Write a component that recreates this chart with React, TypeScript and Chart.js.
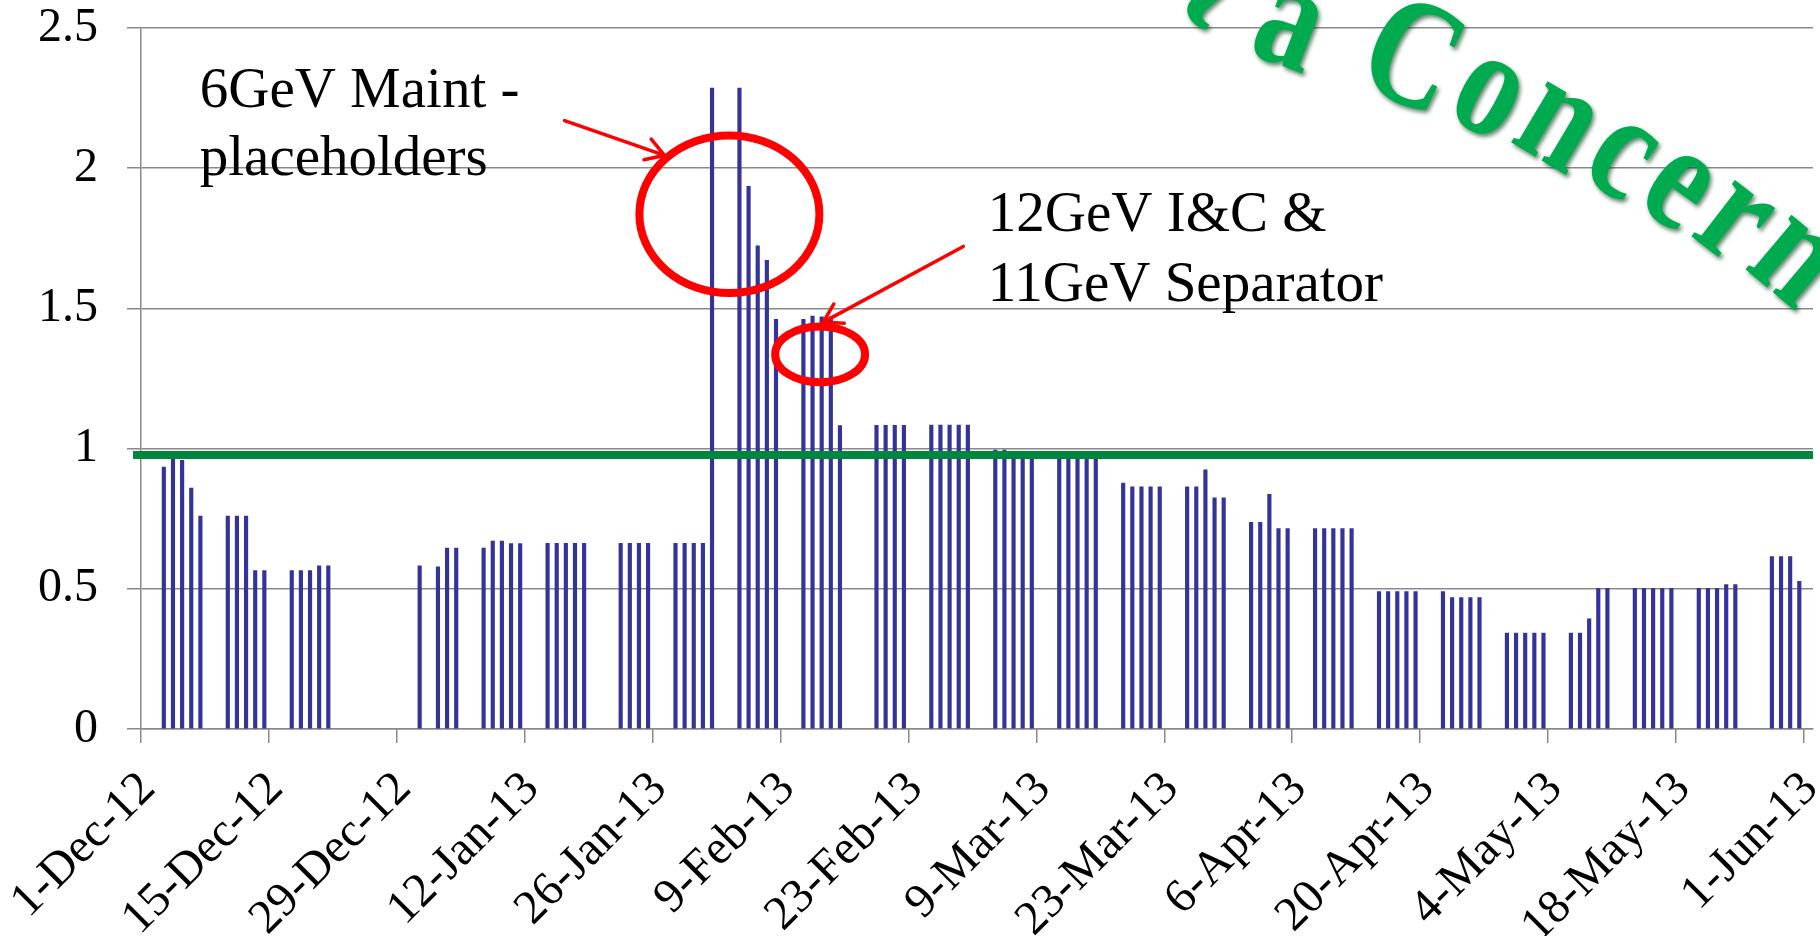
import React, { useEffect, useRef } from 'react';
import { Chart, registerables } from 'chart.js';

Chart.register(...registerables);

// ---------- data ----------
const AXIS_START = '2012-12-01';
const AXIS_END = '2013-06-02';

const BAR_DATES = [
  '2012-12-03', '2012-12-04', '2012-12-05', '2012-12-06', '2012-12-07',
  '2012-12-10', '2012-12-11', '2012-12-12', '2012-12-13', '2012-12-14',
  '2012-12-17', '2012-12-18', '2012-12-19', '2012-12-20', '2012-12-21',
  '2012-12-31',
  '2013-01-02', '2013-01-03', '2013-01-04',
  '2013-01-07', '2013-01-08', '2013-01-09', '2013-01-10', '2013-01-11',
  '2013-01-14', '2013-01-15', '2013-01-16', '2013-01-17', '2013-01-18',
  '2013-01-22', '2013-01-23', '2013-01-24', '2013-01-25',
  '2013-01-28', '2013-01-29', '2013-01-30', '2013-01-31', '2013-02-01',
  '2013-02-04', '2013-02-05', '2013-02-06', '2013-02-07', '2013-02-08',
  '2013-02-11', '2013-02-12', '2013-02-13', '2013-02-14', '2013-02-15',
  '2013-02-19', '2013-02-20', '2013-02-21', '2013-02-22',
  '2013-02-25', '2013-02-26', '2013-02-27', '2013-02-28', '2013-03-01',
  '2013-03-04', '2013-03-05', '2013-03-06', '2013-03-07', '2013-03-08',
  '2013-03-11', '2013-03-12', '2013-03-13', '2013-03-14', '2013-03-15',
  '2013-03-18', '2013-03-19', '2013-03-20', '2013-03-21', '2013-03-22',
  '2013-03-25', '2013-03-26', '2013-03-27', '2013-03-28', '2013-03-29',
  '2013-04-01', '2013-04-02', '2013-04-03', '2013-04-04', '2013-04-05',
  '2013-04-08', '2013-04-09', '2013-04-10', '2013-04-11', '2013-04-12',
  '2013-04-15', '2013-04-16', '2013-04-17', '2013-04-18', '2013-04-19',
  '2013-04-22', '2013-04-23', '2013-04-24', '2013-04-25', '2013-04-26',
  '2013-04-29', '2013-04-30', '2013-05-01', '2013-05-02', '2013-05-03',
  '2013-05-06', '2013-05-07', '2013-05-08', '2013-05-09', '2013-05-10',
  '2013-05-13', '2013-05-14', '2013-05-15', '2013-05-16', '2013-05-17',
  '2013-05-20', '2013-05-21', '2013-05-22', '2013-05-23', '2013-05-24',
  '2013-05-28', '2013-05-29', '2013-05-30', '2013-05-31',
];

const BAR_VALUES = [
  0.934, 0.97, 0.958, 0.859, 0.759,
  0.759, 0.759, 0.759, 0.565, 0.565,
  0.565, 0.565, 0.565, 0.582, 0.582,
  0.582,
  0.578, 0.645, 0.645,
  0.645, 0.67, 0.67, 0.661, 0.661,
  0.662, 0.662, 0.662, 0.662, 0.662,
  0.662, 0.662, 0.662, 0.662,
  0.662, 0.662, 0.662, 0.662, 2.286,
  2.286, 1.935, 1.723, 1.671, 1.461,
  1.461, 1.473, 1.47, 1.47, 1.082,
  1.083, 1.083, 1.083, 1.083,
  1.084, 1.084, 1.084, 1.084, 1.084,
  0.995, 0.995, 0.98, 0.98, 0.98,
  0.98, 0.98, 0.98, 0.98, 0.98,
  0.877, 0.864, 0.864, 0.864, 0.864,
  0.864, 0.864, 0.924, 0.824, 0.824,
  0.737, 0.737, 0.837, 0.715, 0.715,
  0.715, 0.715, 0.715, 0.715, 0.715,
  0.49, 0.49, 0.49, 0.49, 0.49,
  0.49, 0.469, 0.469, 0.469, 0.469,
  0.342, 0.342, 0.342, 0.342, 0.342,
  0.342, 0.342, 0.393, 0.502, 0.502,
  0.502, 0.502, 0.502, 0.502, 0.502,
  0.502, 0.502, 0.502, 0.515, 0.515,
  0.615, 0.615, 0.615, 0.527,
];

const TICK_DATES = [
  '2012-12-01', '2012-12-15', '2012-12-29', '2013-01-12', '2013-01-26',
  '2013-02-09', '2013-02-23', '2013-03-09', '2013-03-23', '2013-04-06',
  '2013-04-20', '2013-05-04', '2013-05-18', '2013-06-01',
];
const TICK_LABELS = [
  '1-Dec-12', '15-Dec-12', '29-Dec-12', '12-Jan-13', '26-Jan-13',
  '9-Feb-13', '23-Feb-13', '9-Mar-13', '23-Mar-13', '6-Apr-13',
  '20-Apr-13', '4-May-13', '18-May-13', '1-Jun-13',
];

const Y_MIN = 0;
const Y_MAX = 2.5;
const Y_STEP = 0.5;
const THRESHOLD = 0.977;

// annotations in data coordinates (day index from axis start, value)
const NOTE_TEXTS = ['6GeV Maint -', 'placeholders', '12GeV I&C &', '11GeV Separator'];
const NOTE_DAYS = [6.43, 6.43, 92.69, 92.69];
const NOTE_VALUES = [2.219, 1.977, 1.775, 1.525];

const ELLIPSE_DAYS = [64.4, 74.33];
const ELLIPSE_VALUES = [1.836, 1.336];
const ELLIPSE_R_DAYS = [9.85, 4.92];
const ELLIPSE_R_VALUES = [0.281, 0.0998];

const ARROW_FROM_DAYS = [46.36, 90.0];
const ARROW_FROM_VALUES = [2.17, 1.721];
const ARROW_TO_DAYS = [57.3, 74.68];
const ARROW_TO_VALUES = [2.046, 1.451];

const WORDART_TEXT = 'Not a Concern';

// ---------- helpers ----------
const dayIndex = (iso: string) => {
  const [y, m, d] = iso.split('-').map(Number);
  const [y0, m0, d0] = AXIS_START.split('-').map(Number);
  return (Date.UTC(y, m - 1, d) - Date.UTC(y0, m0 - 1, d0)) / 86400000;
};

const SERIF = '"Liberation Serif", "Times New Roman", serif';
const DEG = Math.PI / 180;

const overlayPlugin = {
  id: 'overlay',
  afterDatasetsDraw(chart: any) {
    const { ctx, chartArea } = chart;
    const xs = chart.scales.x;
    const ys = chart.scales.y;
    ctx.save();

    // threshold line
    const ty = ys.getPixelForValue(THRESHOLD);
    ctx.strokeStyle = '#00873D';
    ctx.lineWidth = 8;
    ctx.beginPath();
    ctx.moveTo(chartArea.left - 8, ty);
    ctx.lineTo(chartArea.right, ty);
    ctx.stroke();

    // ellipses
    ctx.strokeStyle = '#FF0000';
    ctx.lineWidth = 8;
    for (let i = 0; i < ELLIPSE_DAYS.length; i++) {
      const cx = xs.getPixelForValue(ELLIPSE_DAYS[i]);
      const cy = ys.getPixelForValue(ELLIPSE_VALUES[i]);
      const rx = xs.getPixelForValue(ELLIPSE_DAYS[i] + ELLIPSE_R_DAYS[i]) - cx;
      const ry = cy - ys.getPixelForValue(ELLIPSE_VALUES[i] + ELLIPSE_R_VALUES[i]);
      ctx.beginPath();
      ctx.ellipse(cx, cy, rx, ry, 0, 0, Math.PI * 2);
      ctx.stroke();
    }

    // arrows
    ctx.lineWidth = 3.5;
    ctx.lineCap = 'round';
    for (let i = 0; i < ARROW_FROM_DAYS.length; i++) {
      const x1 = xs.getPixelForValue(ARROW_FROM_DAYS[i]);
      const y1 = ys.getPixelForValue(ARROW_FROM_VALUES[i]);
      const x2 = xs.getPixelForValue(ARROW_TO_DAYS[i]);
      const y2 = ys.getPixelForValue(ARROW_TO_VALUES[i]);
      const a = Math.atan2(y2 - y1, x2 - x1);
      const hl = 21;
      ctx.beginPath();
      ctx.moveTo(x1, y1);
      ctx.lineTo(x2, y2);
      ctx.moveTo(x2 - hl * Math.cos(a - 0.55), y2 - hl * Math.sin(a - 0.55));
      ctx.lineTo(x2, y2);
      ctx.lineTo(x2 - hl * Math.cos(a + 0.55), y2 - hl * Math.sin(a + 0.55));
      ctx.stroke();
    }

    // texts
    ctx.fillStyle = '#000000';
    ctx.font = `57px ${SERIF}`;
    ctx.textAlign = 'left';
    ctx.textBaseline = 'alphabetic';
    for (let i = 0; i < NOTE_TEXTS.length; i++) {
      ctx.fillText(NOTE_TEXTS[i], xs.getPixelForValue(NOTE_DAYS[i]), ys.getPixelForValue(NOTE_VALUES[i]));
    }
    ctx.restore();
  },
  afterDraw(chart: any) {
    const { ctx } = chart;
    ctx.save();
    const sx = 0.8;
    ctx.font = `bold 155px ${SERIF}`;
    ctx.textAlign = 'center';
    ctx.textBaseline = 'alphabetic';
    ctx.fillStyle = '#00AA4F';
    ctx.shadowColor = 'rgba(0, 70, 25, 0.65)';
    ctx.shadowBlur = 4;
    ctx.shadowOffsetX = 2;
    ctx.shadowOffsetY = 3;
    const chars = WORDART_TEXT.split('');
    const anchorIdx = WORDART_TEXT.indexOf('a');
    const spacing = 8;
    const widths = chars.map((c) => ctx.measureText(c).width * sx);
    const sArr: number[] = new Array(chars.length).fill(0);
    for (let i = anchorIdx + 1; i < chars.length; i++) sArr[i] = sArr[i - 1] + widths[i - 1] / 2 + spacing + widths[i] / 2;
    for (let i = anchorIdx - 1; i >= 0; i--) sArr[i] = sArr[i + 1] - (widths[i + 1] / 2 + spacing + widths[i] / 2);
    const p0x = 1275;
    const p0y = 63;
    const th0 = 15 * DEG;
    const kRight = (19.5 * DEG) / 555;
    const kLeft = (28 * DEG) / 100;
    const theta = (s: number) => (s >= 0 ? th0 + kRight * s : th0 - kLeft * s);
    const pathPoint = (s: number) => {
      let x = p0x;
      let y = p0y;
      const n = Math.max(1, Math.round(Math.abs(s)));
      const ds = s / n;
      for (let j = 0; j < n; j++) {
        const th = theta(ds * (j + 0.5));
        x += Math.cos(th) * ds;
        y += Math.sin(th) * ds;
      }
      return [x, y];
    };
    for (let i = 0; i < chars.length; i++) {
      if (chars[i] === ' ') continue;
      const s = sArr[i];
      const [px, py] = pathPoint(s);
      ctx.save();
      ctx.translate(px, py);
      ctx.rotate(theta(s) + 6 * DEG);
      ctx.scale(sx, 1);
      ctx.fillText(chars[i], 0, 0);
      ctx.restore();
    }
    ctx.restore();
  },
};

export default function App() {
  const canvasRef = useRef<HTMLCanvasElement | null>(null);

  useEffect(() => {
    document.body.style.margin = '0';
    const canvas = canvasRef.current;
    if (!canvas) return;
    const data = BAR_DATES.map((d, i) => ({ x: dayIndex(d) + 0.5, y: BAR_VALUES[i] }));
    const tickValues = TICK_DATES.map(dayIndex);
    const gridColor = '#8A8A8A';

    const chart = new Chart(canvas, {
      type: 'bar',
      data: {
        datasets: [
          {
            data: data as any,
            backgroundColor: '#333399',
            borderWidth: 0,
            barThickness: 3.5,
          },
        ],
      },
      plugins: [overlayPlugin],
      options: {
        responsive: false,
        animation: false,
        events: [],
        layout: { padding: { top: 28, right: 7, left: 0, bottom: 0 } },
        plugins: { legend: { display: false }, tooltip: { enabled: false } },
        scales: {
          x: {
            type: 'linear',
            offset: false,
            min: 0,
            max: dayIndex(AXIS_END),
            afterBuildTicks: (scale: any) => {
              scale.ticks = tickValues.map((v) => ({ value: v }));
            },
            afterFit: (scale: any) => {
              scale.height = 207;
              scale.paddingLeft = 0;
              scale.paddingRight = 0;
            },
            grid: {
              offset: false,
              drawOnChartArea: false,
              drawTicks: true,
              tickLength: 14,
              color: gridColor,
              lineWidth: 1.5,
            },
            border: { display: true, color: gridColor, width: 1.5 },
            ticks: {
              autoSkip: false,
              minRotation: 45,
              maxRotation: 45,
              padding: 18,
              labelOffset: 7,
              color: '#000000',
              font: { family: SERIF, size: 48 },
              callback: (v: any) => {
                const idx = tickValues.indexOf(Number(v));
                return idx >= 0 ? TICK_LABELS[idx] : '';
              },
            },
          },
          y: {
            type: 'linear',
            min: Y_MIN,
            max: Y_MAX,
            afterFit: (scale: any) => {
              scale.width = 141;
              scale.paddingTop = 0;
              scale.paddingBottom = 0;
            },
            grid: {
              drawTicks: true,
              tickLength: 14,
              color: gridColor,
              lineWidth: 1.5,
            },
            border: { display: true, color: gridColor, width: 1.5 },
            ticks: {
              stepSize: Y_STEP,
              padding: 29,
              color: '#000000',
              font: { family: SERIF, size: 48 },
              callback: (v: any) => String(v),
            },
          },
        },
      },
    });
    return () => chart.destroy();
  }, []);

  return (
    <div style={{ width: 1820, height: 936, position: 'relative', background: '#ffffff' }}>
      <canvas ref={canvasRef} width={1820} height={936} style={{ display: 'block' }} />
    </div>
  );
}
